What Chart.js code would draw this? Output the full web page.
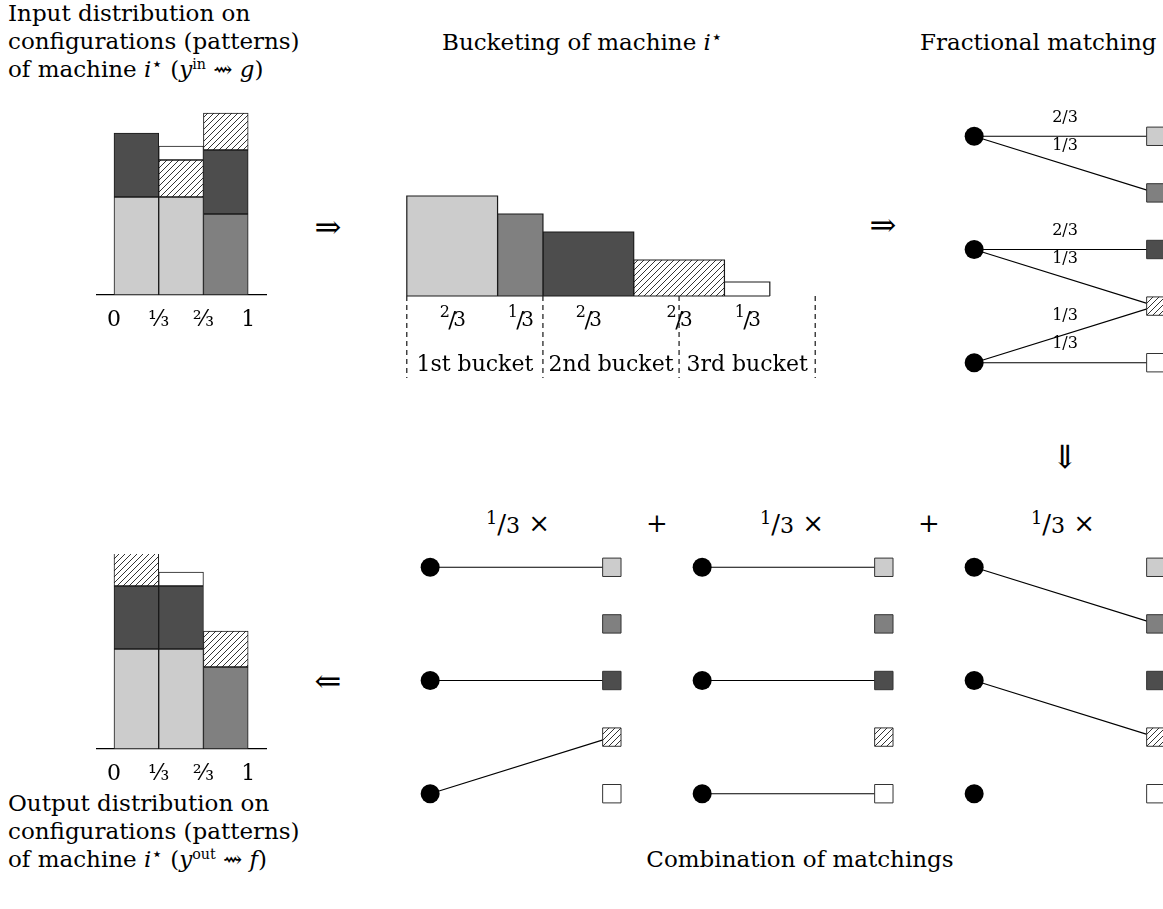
<!DOCTYPE html>
<html>
<head>
<meta charset="utf-8">
<script src="https://cdn.jsdelivr.net/npm/chart.js@4.4.1/dist/chart.umd.min.js"></script>
<style>
  html, body { margin: 0; padding: 0; background: #fff; overflow: hidden; }
  body { width: 1163px; height: 909px; position: relative; font-family: "DejaVu Serif", serif; color: #000; }
  canvas { position: absolute; }
  .txt { position: absolute; font-size: 23px; line-height: 28px; white-space: nowrap; }
  .ctr { transform: translateX(-50%); }
  .sym { position: absolute; font-size: 26px; line-height: 1; transform: translate(-50%, -50%); white-space: nowrap; }
  .arr { font-size: 32px; }
  sup { font-size: 62%; line-height: 0; vertical-align: 0.55em; }
  sup.st { font-family: "DejaVu Sans", sans-serif; font-size: 80%; vertical-align: 0.4em; }
  .nf .n { font-size: 68%; vertical-align: 0.5em; }
  .nf .d { font-size: 85%; }
</style>
</head>
<body>

<div class="txt" style="left:8px;top:-1px">Input distribution on<br>configurations (patterns)<br>of machine <i>i</i><sup class="st">⋆</sup> (<i>y</i><sup>in</sup> ⇝ <i>g</i>)</div>
<div class="txt" style="left:442px;top:28px">Bucketing of machine <i>i</i><sup class="st">⋆</sup></div>
<div class="txt" style="left:920px;top:28px">Fractional matching</div>
<div class="txt" style="left:8px;top:789px">Output distribution on<br>configurations (patterns)<br>of machine <i>i</i><sup class="st">⋆</sup> (<i>y</i><sup>out</sup> ⇝ <i>f</i>)</div>
<div class="txt ctr" style="left:800px;top:845px">Combination of matchings</div>

<div class="sym arr" style="left:328px;top:227px">⇒</div>
<div class="sym arr" style="left:883px;top:225px">⇒</div>
<div class="sym arr" style="left:1065px;top:457px">⇓</div>
<div class="sym arr" style="left:328px;top:681px">⇐</div>
<div class="sym" style="left:518px;top:523px"><span class="nf"><span class="n">1</span>/<span class="d">3</span></span> ×</div>
<div class="sym" style="left:657px;top:523px">+</div>
<div class="sym" style="left:792px;top:523px"><span class="nf"><span class="n">1</span>/<span class="d">3</span></span> ×</div>
<div class="sym" style="left:929px;top:523px">+</div>
<div class="sym" style="left:1063px;top:523px"><span class="nf"><span class="n">1</span>/<span class="d">3</span></span> ×</div>

<canvas id="chartIn" width="172" height="240" style="left:95px;top:100px"></canvas>
<canvas id="chartBucket" width="422" height="195" style="left:400px;top:186px"></canvas>
<canvas id="chartFrac" width="246" height="311" style="left:942px;top:94px"></canvas>
<canvas id="chartM1" width="246" height="311" style="left:398px;top:525px"></canvas>
<canvas id="chartM2" width="246" height="311" style="left:670px;top:525px"></canvas>
<canvas id="chartM3" width="246" height="311" style="left:942px;top:525px"></canvas>
<canvas id="chartOut" width="172" height="240" style="left:95px;top:554px"></canvas>

<script>
// pattern kinds, in stacking order
const kinds = ['light', 'mid', 'dark', 'hatch', 'white'];

// machine columns of width 1/3
const colTicks = [0, 1/3, 2/3, 1];
const colTickText = ['0', '¹⁄₃', '²⁄₃', '1'];
const colCenters = [1/6, 1/2, 5/6];

// y_in (input distribution), heights per column
const inLight = [98, 98, 0];
const inMid   = [0, 0, 81];
const inDark  = [64, 0, 64];
const inHatch = [0, 37, 37];
const inWhite = [0, 14, 0];

// y_out (output distribution)
const outLight = [100, 100, 0];
const outMid   = [0, 0, 82];
const outDark  = [63, 63, 0];
const outHatch = [36, 0, 36];
const outWhite = [0, 14, 0];

// bucketing: pieces sorted by size
const pieceKinds   = ['light', 'mid', 'dark', 'hatch', 'white'];
const pieceWidths  = [2/3, 1/3, 2/3, 2/3, 1/3];
const pieceHeights = [100, 82, 64, 36, 14];
const pieceNum     = ['2', '1', '2', '2', '1'];
const bucketNames  = ['1st bucket', '2nd bucket', '3rd bucket'];

// bipartite graphs: left nodes sit on rows 0,2,4, right nodes are the 5 patterns
const leftRows  = [0, 2, 4];
const rightKinds = ['light', 'mid', 'dark', 'hatch', 'white'];
const fracEdges = [[0, 0, '2/3'], [0, 1, '1/3'], [1, 2, '2/3'], [1, 3, '1/3'], [2, 3, '1/3'], [2, 4, '1/3']];
const match1 = [[0, 0], [1, 2], [2, 3]];
const match2 = [[0, 0], [1, 2], [2, 4]];
const match3 = [[0, 1], [1, 3]];

const FONT = '"DejaVu Serif", serif';

function makeHatch() {
    const c = document.createElement('canvas');
    c.width = 6; c.height = 6;
    const g = c.getContext('2d');
    g.fillStyle = '#fff';
    g.fillRect(0, 0, 6, 6);
    g.strokeStyle = '#000';
    g.lineWidth = 0.8;
    g.beginPath();
    g.moveTo(-1, 7); g.lineTo(7, -1);
    g.moveTo(-1, 1); g.lineTo(1, -1);
    g.moveTo(5, 7); g.lineTo(7, 5);
    g.stroke();
    return g.createPattern(c, 'repeat');
}

const fills = {
    light: '#cccccc',
    mid: '#808080',
    dark: '#4d4d4d',
    hatch: makeHatch(),
    white: '#ffffff'
};

function drawFrac(ctx, n, d, x, y, size) {
    ctx.textAlign = 'center';
    ctx.textBaseline = 'alphabetic';
    const base = y + size * 0.33;
    ctx.font = `${Math.round(size * 0.68)}px ${FONT}`;
    ctx.fillText(n, x - size * 0.32, base - size * 0.36);
    ctx.font = `${size}px ${FONT}`;
    ctx.fillText('/', x, base + size * 0.06);
    ctx.font = `${Math.round(size * 0.85)}px ${FONT}`;
    ctx.fillText(d, x + size * 0.32, base);
}

// small plugin: text placed in data coordinates
const labelPlugin = {
    id: 'labels',
    afterDatasetsDraw(chart, args, opts) {
        const { ctx } = chart;
        const x = chart.scales.x, y = chart.scales.y;
        ctx.save();
        ctx.fillStyle = '#000';
        (opts.items || []).forEach(it => {
            const px = x.getPixelForValue(it.x);
            const py = y.getPixelForValue(it.y) + (it.dy || 0);
            if (it.frac) {
                drawFrac(ctx, it.frac[0], it.frac[1], px, py, it.size);
            } else {
                ctx.font = `${it.size}px ${FONT}`;
                ctx.textAlign = 'center';
                ctx.textBaseline = 'middle';
                ctx.fillText(it.text, px, py);
            }
        });
        ctx.restore();
    }
};

const baseOptions = {
    responsive: false,
    animation: false,
    events: [],
    layout: { padding: 0 },
    plugins: { legend: { display: false }, tooltip: { enabled: false } }
};

function stackChart(id, series) {
    const datasets = kinds.map((k, s) => ({
        data: series[s].map((v, i) => ({ x: colCenters[i], y: v })).filter(p => p.y > 0),
        backgroundColor: fills[k],
        borderColor: '#1a1a1a',
        borderWidth: 1,
        borderSkipped: false,
        barPercentage: 1,
        categoryPercentage: 1
    }));

    return new Chart(document.getElementById(id), {
        type: 'bar',
        data: { datasets },
        options: {
            ...baseOptions,
            scales: {
                x: {
                    type: 'linear',
                    stacked: true,
                    offset: false,
                    min: -0.13,
                    max: 1.14,
                    grid: { display: false, drawTicks: false, offset: false },
                    border: { display: true, color: '#000', width: 1.2 },
                    afterBuildTicks: s => { s.ticks = colTicks.map(v => ({ value: v })); },
                    afterFit: s => { s.height = 45; },
                    ticks: {
                        autoSkip: false,
                        maxRotation: 0,
                        padding: 12,
                        color: '#000',
                        font: { family: FONT, size: 22 },
                        callback: (v, i) => colTickText[i]
                    }
                },
                y: { display: false, stacked: true, min: 0, max: 195 }
            }
        }
    });
}

stackChart('chartIn', [inLight, inMid, inDark, inHatch, inWhite]);
stackChart('chartOut', [outLight, outMid, outDark, outHatch, outWhite]);

// bucketing chart: each piece is an outline filled down to 0
(function () {
    const datasets = [];
    const items = [];
    const lineOpts = { pointRadius: 0, pointHoverRadius: 0, pointBorderWidth: 0, tension: 0 };
    let x0 = 0;
    pieceWidths.forEach((w, i) => {
        const x1 = x0 + w;
        const h = pieceHeights[i];
        datasets.push({
            ...lineOpts,
            data: [{ x: x0, y: 0 }, { x: x0, y: h }, { x: x1, y: h }, { x: x1, y: 0 }],
            fill: 'origin',
            backgroundColor: fills[pieceKinds[i]],
            borderColor: '#1a1a1a',
            borderWidth: 1.2,
            order: 1
        });
        items.push({ frac: [pieceNum[i], '3'], x: x0 + w / 2, y: -22, size: 23 });
        x0 = x1;
    });
    // common base line under the pieces
    datasets.push({
        ...lineOpts,
        data: [{ x: 0, y: 0 }, { x: x0, y: 0 }],
        borderColor: '#1a1a1a',
        borderWidth: 1.2,
        fill: false,
        order: 0
    });
    // bucket boundaries: every bucket holds size 1
    for (let b = 0; b <= bucketNames.length; b++) {
        datasets.push({
            ...lineOpts,
            data: [{ x: b, y: 0 }, { x: b, y: -82 }],
            borderColor: '#000',
            borderWidth: 1.1,
            borderDash: [5, 4],
            fill: false,
            order: 2
        });
    }
    bucketNames.forEach((name, b) => items.push({ text: name, x: b + 0.5, y: -69, size: 22 }));

    new Chart(document.getElementById('chartBucket'), {
        type: 'line',
        data: { datasets },
        plugins: [labelPlugin],
        options: {
            ...baseOptions,
            plugins: { ...baseOptions.plugins, labels: { items } },
            scales: {
                x: { type: 'linear', display: false, min: -0.05, max: 3.05 },
                y: { display: false, min: -85, max: 110 }
            }
        }
    });
})();

function matchChart(id, edges, weights) {
    const datasets = edges.map(([a, b]) => ({
        data: [{ x: 0, y: leftRows[a] }, { x: 1, y: b }],
        borderColor: '#000',
        borderWidth: 1.1,
        pointRadius: 0,
        pointHoverRadius: 0,
        fill: false,
        order: 3
    }));
    datasets.push({
        data: leftRows.map(r => ({ x: 0, y: r })),
        showLine: false,
        pointRadius: 9.5,
        pointHoverRadius: 9.5,
        pointBackgroundColor: '#000',
        pointBorderWidth: 0,
        order: 1
    });
    datasets.push({
        data: rightKinds.map((k, j) => ({ x: 1, y: j })),
        showLine: false,
        pointStyle: 'rect',
        pointRadius: 13,
        pointHoverRadius: 13,
        pointBackgroundColor: rightKinds.map(k => fills[k]),
        pointBorderColor: '#333',
        pointBorderWidth: 1,
        order: 0
    });
    const items = weights
        ? edges.map(([a, b, w]) => ({ text: w, x: 0.5, y: (leftRows[a] + b) / 2, dy: -18.5, size: 16 }))
        : [];

    // the line controller keeps (radius + border) = 14px free around the plot;
    // the canvases are 14px larger on every side to make up for it
    return new Chart(document.getElementById(id), {
        type: 'line',
        data: { datasets },
        plugins: [labelPlugin],
        options: {
            ...baseOptions,
            plugins: { ...baseOptions.plugins, labels: { items } },
            scales: {
                x: { type: 'linear', display: false, min: -0.1, max: 1.1 },
                y: { type: 'linear', display: false, reverse: true, min: -0.5, max: 4.5 }
            }
        }
    });
}

matchChart('chartFrac', fracEdges, true);
matchChart('chartM1', match1, false);
matchChart('chartM2', match2, false);
matchChart('chartM3', match3, false);
</script>
</body>
</html>
